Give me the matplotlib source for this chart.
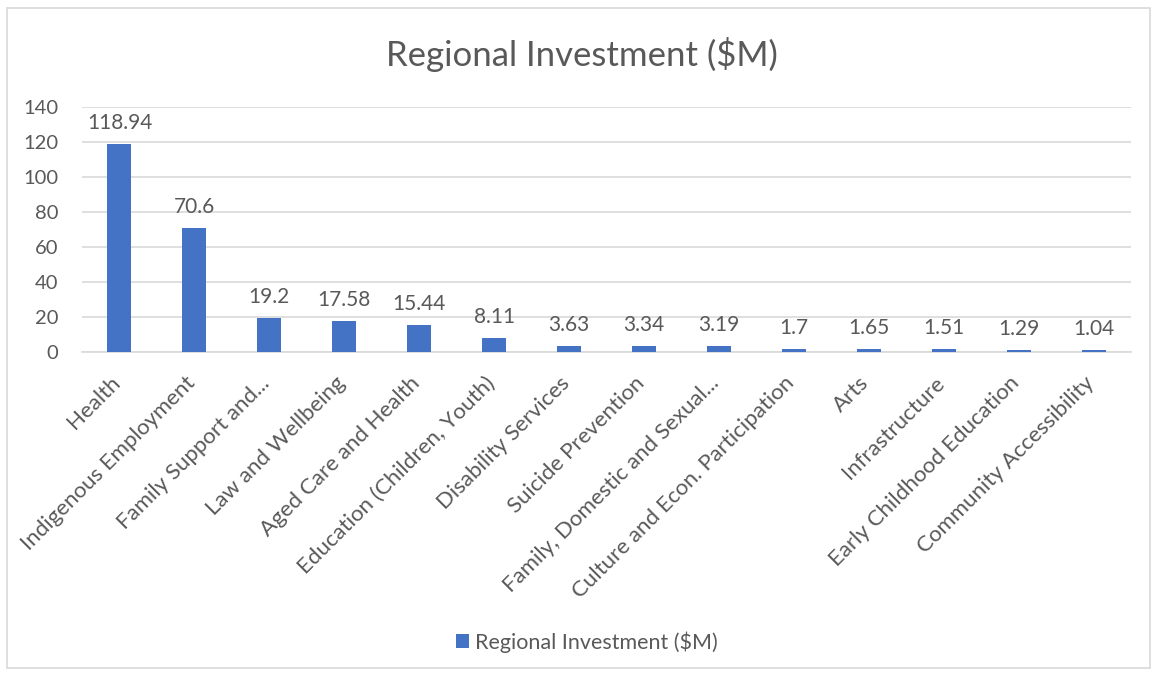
import matplotlib.pyplot as plt
import matplotlib.transforms as mtransforms
from matplotlib.patches import Rectangle
import numpy as np

categories = [
    "Health",
    "Indigenous Employment",
    "Family Support and...",
    "Law and Wellbeing",
    "Aged Care and Health",
    "Education (Children, Youth)",
    "Disability Services",
    "Suicide Prevention",
    "Family, Domestic and Sexual...",
    "Culture and Econ. Participation",
    "Arts",
    "Infrastructure",
    "Early Childhood Education",
    "Community Accessibility",
]
investment = [118.94, 70.6, 19.2, 17.58, 15.44, 8.11, 3.63, 3.34, 3.19, 1.7, 1.65, 1.51, 1.29, 1.04]
y_ticks = [0, 20, 40, 60, 80, 100, 120, 140]

BAR_COLOR = "#4472C4"
TEXT_COLOR = "#595959"
GRID_COLOR = "#D9D9D9"

plt.rcParams["font.family"] = ["Lato", "DejaVu Sans"]

fig = plt.figure(figsize=(11.55, 6.75), dpi=100)
fig.patches.append(
    Rectangle((7 / 1155, 1 - 668 / 675), 1143 / 1155, 660 / 675,
              transform=fig.transFigure, fill=False, edgecolor=GRID_COLOR, linewidth=1.2)
)

ax = fig.add_axes([82 / 1155, 1 - 352 / 675, 1049 / 1155, 245 / 675])
x = np.arange(len(categories))
bars = ax.bar(x, investment, width=0.32, color=BAR_COLOR, label="Regional Investment ($M)", zorder=3)

# value labels sitting just above each bar
for xi, v in zip(x, investment):
    ax.annotate(f"{v:g}", (xi, v), xytext=(0, 8), textcoords="offset points",
                ha="center", va="bottom", fontsize=15, color=TEXT_COLOR)

ax.set_xlim(-0.5, len(categories) - 0.5)
ax.set_ylim(0, 140)
ax.set_yticks(y_ticks)
ax.yaxis.grid(True, color=GRID_COLOR, linewidth=1.2, zorder=0)
ax.set_axisbelow(True)
for side in ["top", "right", "left"]:
    ax.spines[side].set_visible(False)
ax.spines["bottom"].set_color(GRID_COLOR)
ax.spines["bottom"].set_linewidth(1.2)

ax.tick_params(axis="y", length=0, pad=17, labelsize=14.5, labelcolor=TEXT_COLOR)
ax.tick_params(axis="x", length=0, pad=15, labelsize=16, labelcolor=TEXT_COLOR)
ax.set_xticks(x)
ax.set_xticklabels(categories, rotation=45, ha="right", rotation_mode="anchor")

# nudge the slanted category labels a little to the left
shift = mtransforms.ScaledTranslation(-7 / 72, 0, fig.dpi_scale_trans)
for lbl in ax.get_xticklabels():
    lbl.set_transform(lbl.get_transform() + shift)

fig.text(582 / 1155, 1 - 55 / 675, "Regional Investment ($M)", ha="center", va="center",
         fontsize=25, color=TEXT_COLOR)

fig.legend(handles=[bars], labels=["Regional Investment ($M)"], loc="center",
           bbox_to_anchor=(587 / 1155, 1 - 642 / 675), frameon=False,
           fontsize=15.5, labelcolor=TEXT_COLOR, handlelength=0.6, handleheight=0.6,
           handletextpad=0.3)

fig.savefig("out.png", dpi=100)
